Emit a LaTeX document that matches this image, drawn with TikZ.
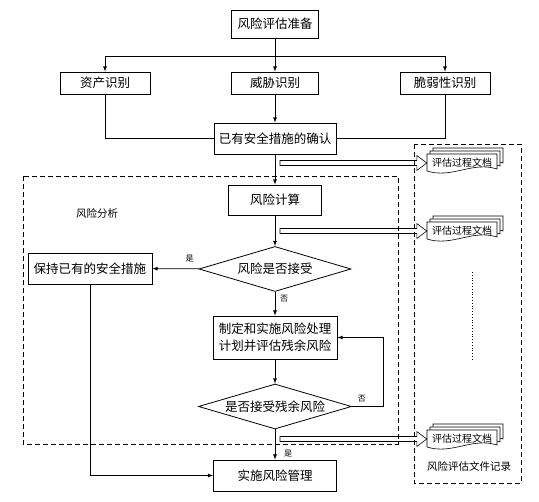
\documentclass[tikz,border=0pt]{standalone}
\usepackage{fontspec}
\setmainfont{Noto Sans CJK SC}
\usetikzlibrary{positioning}
\usetikzlibrary{calc}
\usetikzlibrary{shapes}
\usetikzlibrary{arrows}
\tikzset{>=latex}
\tikzset{proc/.style={rectangle, draw, line width=0.8pt, inner sep=0pt, align=center, font=\fontsize{12.5}{17}\selectfont}}
\tikzset{decide/.style={diamond, draw, aspect=3.4, line width=0.8pt, inner sep=0pt, minimum width=152pt, minimum height=45pt, font=\fontsize{12.5}{16}\selectfont}}
\tikzset{doctext/.style={rectangle, inner sep=0pt, minimum width=70pt, minimum height=18pt, font=\fontsize{10}{12}\selectfont}}
\tikzset{lbl/.style={font=\fontsize{8}{10}\selectfont, inner sep=1pt}}
\tikzset{regiontext/.style={font=\fontsize{10.5}{12}\selectfont, inner sep=1pt}}
\tikzset{region/.style={draw, line width=0.8pt, dash pattern=on 5pt off 3pt}}
\tikzset{flow/.style={line width=0.8pt}}

\newcommand{\docstack}[2]{%
  \foreach \d in {6,3,0} {
    \draw[line width=0.6pt, fill=white, shift={($(#2)+(\d,-\d)$)}]
      (-35,-9) -- (35,-9) -- (35,6) .. controls (10,-2) and (-10,16) .. (-35,8) -- cycle;
  }
  \node[doctext] (#1) at (#2) {评估过程文档};
}
\newcommand{\hollowarrow}[2]{%
  \draw[line width=0.6pt] let \p1=(#1), \p2=(#2) in
    (\x1,\y1+2.5pt) -- (\x2-10pt,\y1+2.5pt) -- (\x2-10pt,\y1+7.5pt) -- (\x2,\y1)
    -- (\x2-10pt,\y1-7.5pt) -- (\x2-10pt,\y1-2.5pt) -- (\x1,\y1-2.5pt) -- cycle;}

\begin{document}
\begin{tikzpicture}[x=1pt, y=-1pt]
    \useasboundingbox (0,0) rectangle (539,502);

    % The two dashed regions.
    \draw[region] (23,176) rectangle (398,444);
    \node[regiontext] (analysis) at (97,213) {风险分析};
    \draw[region] (414,144) rectangle (521,483);
    \node[regiontext] (records) at (469,466) {风险评估文件记录};

    \node [proc, minimum width=87pt, minimum height=28pt] (prep) at (275,24) {风险评估准备};
    \node [proc, minimum width=90pt, minimum height=22pt] (asset) at (105,83) {资产识别};
    \node [proc, minimum width=87pt, minimum height=22pt] (threat) at (275,83) {威胁识别};
    \node [proc, minimum width=90pt, minimum height=22pt] (vuln) at (445,83) {脆弱性识别};
    \node [proc, minimum width=122pt, minimum height=31pt] (confirm) at (275,138.5) {已有安全措施的确认};

    \node [proc, minimum width=93pt, minimum height=30pt] (calc) at (275,200) {风险计算};
    \node [decide] (accept) at (275,269) {风险是否接受};
    \node [proc, minimum width=124pt, minimum height=31pt] (keep) at (90,268.5) {保持已有的安全措施};
    \node [proc, minimum width=124pt, minimum height=43pt] (plan) at (275,337.5) {制定和实施风险处理\\计划并评估残余风险};
    \node [decide, minimum width=153pt] (residual) at (275,406.5) {是否接受残余风险};
    \node [proc, minimum width=123pt, minimum height=31pt] (impl) at (275,475.5) {实施风险管理};

    % Edges of the flow.
    \coordinate (split) at (275,56);
    \draw[flow] (prep) -- (split);
    \draw[flow,->] (split) -- (threat);
    \draw[flow,->] (split) -| (asset);
    \draw[flow,->] (split) -| (vuln);
    \draw[flow] (asset.south) |- (confirm.west);
    \draw[flow] (vuln.south) |- (confirm.east);
    \draw[flow,->] (threat) -- (confirm);
    \draw[flow,->] (confirm) -- (calc);
    \draw[flow,->] (calc) -- (accept);
    \draw[flow,->] (accept) -- (keep);
    \draw[flow,->] (accept) -- (plan);
    \draw[flow,->] (plan) -- (residual);
    \draw[flow,->] (residual.east) -- ++(31,0) |- (plan.east);
    \draw[flow,->] (residual) -- (impl);
    \draw[flow,->] (keep.south) |- (impl.west);

    \node[lbl] (yes1) at ($(accept.west)+(-9,-10)$) {是};
    \node[lbl] (no1) at ($(accept.south)+(9,7)$) {否};
    \node[lbl] (no2) at ($(residual.east)+(10,-8)$) {否};
    \node[lbl] (yes2) at ($(residual.south)+(13,24)$) {是};

    % The process documents.
    \docstack{doc1}{462,163}
    \docstack{doc2}{462,231}
    \docstack{doc3}{462,439}
    \draw[line width=0.8pt, dotted] (472,272) -- (472,361);

    \coordinate (s1) at (280,163);
    \coordinate (s2) at (280,231);
    \coordinate (s3) at (280,439);
    \hollowarrow{s1}{doc1.west}
    \hollowarrow{s2}{doc2.west}
    \hollowarrow{s3}{doc3.west}

\end{tikzpicture}
\end{document}
